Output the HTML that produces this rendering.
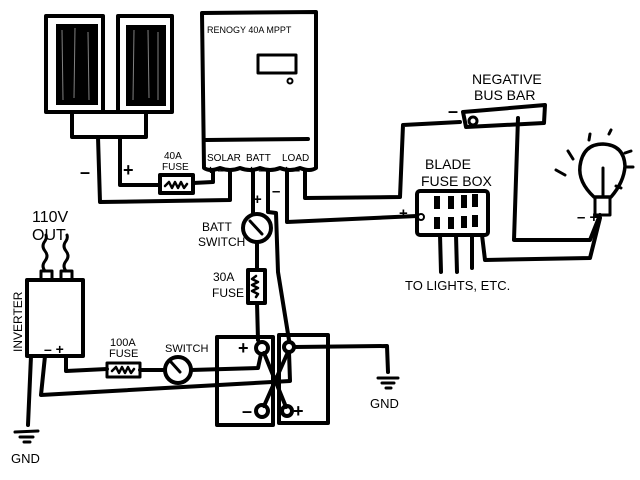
<!DOCTYPE html>
<html><head><style>body{margin:0;background:#fff}svg{display:block}text{font-family:"Liberation Sans",sans-serif;fill:#000}</style></head>
<body>
<svg width="640" height="480" viewBox="0 0 640 480" xmlns="http://www.w3.org/2000/svg">
<g fill="none" stroke="#000" stroke-width="4" stroke-linejoin="round" stroke-linecap="round">
<rect x="46" y="16" width="57" height="96"/>
<rect x="118" y="16" width="54" height="96"/>
<rect x="72" y="112" width="74" height="25"/>
<polyline points="98,137 100,202 230,200 230,170"/>
<polyline points="120,137 120,185 160,185"/>
<rect x="160" y="175" width="33" height="18"/>
<polyline points="193,183 213,182 213,170"/>
<path d="M202,13 L316,12 L316,168 Q310,172 300,168 Q290,172 280,168 Q270,172 260,168 Q250,172 240,168 Q230,172 220,168 Q210,172 204,168 Z"/>
<rect x="258" y="55" width="38" height="18" stroke-width="3"/>
<circle cx="290" cy="81" r="2.5" stroke-width="2"/>
<line x1="206" y1="140" x2="308" y2="139"/>
<polyline points="253,170 253,214"/>
<circle cx="257" cy="228" r="14"/>
<line x1="250" y1="221" x2="262" y2="234" stroke-width="3"/>
<polyline points="257,242 257,270"/>
<rect x="248" y="270" width="17" height="33"/>
<polyline points="257,303 258,340"/>
<polyline points="268,170 268,212 276,213 278,272 289,340"/>
<polyline points="287,170 287,222 417,216"/>
<polyline points="305,170 305,198 400,197 403,125 460,122"/>
<path d="M463,112 L545,105 L544,123 L466,127 Z"/>
<circle cx="473" cy="121" r="4" stroke-width="3"/>
<polyline points="518,118 514,240 590,240 600,215"/>
<rect x="417" y="191" width="71" height="44" rx="3"/>
<circle cx="421" cy="217" r="3" stroke-width="2"/>
<polyline points="440,235 441,272"/><polyline points="456,235 457,272"/><polyline points="472,235 472,268"/>
<polyline points="482,235 485,260 590,258 600,218"/>
<path d="M594,197 Q578,182 580,166 Q583,144 603,144 Q624,145 625,166 Q624,182 611,197 Z" stroke-width="3.5"/>
<rect x="595" y="197" width="15" height="18" stroke-width="3"/>
<line x1="603" y1="168" x2="603" y2="197" stroke-width="3"/>
<g stroke-width="3"><line x1="589" y1="140" x2="590" y2="134"/><line x1="609" y1="134" x2="611" y2="130"/><line x1="625" y1="153" x2="631" y2="151"/><line x1="627" y1="167" x2="633" y2="167"/><line x1="616" y1="186" x2="621" y2="188"/><line x1="568" y1="151" x2="573" y2="159"/><line x1="556" y1="170" x2="565" y2="175"/></g>
<rect x="217" y="337" width="56" height="88"/>
<rect x="279" y="335" width="49" height="88"/>
<circle cx="262" cy="348" r="6"/><circle cx="289" cy="347" r="5"/>
<circle cx="262" cy="411" r="6"/><circle cx="287" cy="411" r="5"/>
<line x1="264" y1="353" x2="286" y2="407"/>
<line x1="288" y1="352" x2="264" y2="406"/>
<polyline points="294,347 387,346 388,372"/>
<g stroke-width="3"><line x1="378" y1="378" x2="398" y2="378"/><line x1="382" y1="383" x2="394" y2="383"/><line x1="386" y1="388" x2="391" y2="388"/></g>
<rect x="27" y="280" width="56" height="76"/>
<rect x="41" y="271" width="11" height="9" stroke-width="3"/><rect x="61" y="271" width="11" height="9" stroke-width="3"/>
<path d="M45,271 q-4,-5 0,-10 q4,-5 0,-10 q-4,-5 0,-10 q2,-3 1,-6" stroke-width="3"/>
<path d="M66,271 q-4,-5 0,-10 q4,-5 0,-10 q-4,-5 0,-10 q2,-3 1,-6" stroke-width="3"/>
<polyline points="66,356 66,371 107,369"/>
<rect x="107" y="363" width="33" height="14" stroke-width="3"/>
<polyline points="140,370 165,370"/>
<circle cx="178" cy="370" r="13"/>
<line x1="171" y1="362" x2="180" y2="372" stroke-width="3"/>
<polyline points="191,370 258,368 261,354"/>
<polyline points="45,356 41,395 290,381 289,352"/>
<polyline points="31,356 28,425"/>
<g stroke-width="3"><line x1="15" y1="432" x2="38" y2="431"/><line x1="20" y1="437" x2="33" y2="437"/><line x1="24" y1="442" x2="30" y2="442"/></g>
<path d="M165,186 l4,-4 l3,6 l3,-6 l3,6 l3,-6 l3,6 l3,-4" stroke-width="2.5"/>
<path d="M112,371 l4,-4 l3,6 l3,-6 l3,6 l3,-6 l3,6 l3,-4" stroke-width="2.5"/>
<path d="M256,276 l-4,3 l6,3 l-6,3 l6,3 l-6,3 l6,3 l-2,3" stroke-width="2.5"/>
</g>
<rect x="56" y="24" width="42" height="81" fill="#000"/>
<rect x="126" y="25" width="40" height="81" fill="#000"/>
<g stroke="#fff" stroke-width="1" opacity="0.5"><line x1="62" y1="30" x2="63" y2="100"/><line x1="75" y1="28" x2="74" y2="98"/><line x1="88" y1="32" x2="89" y2="100"/><line x1="134" y1="30" x2="133" y2="100"/><line x1="148" y1="30" x2="149" y2="98"/><line x1="158" y1="32" x2="158" y2="100"/></g>
<g fill="#000"><rect x="434" y="196" width="6" height="13"/><rect x="448" y="196" width="6" height="13"/><rect x="461" y="195" width="6" height="13"/><rect x="472" y="194" width="6" height="13"/>
<rect x="434" y="217" width="6" height="12"/><rect x="448" y="217" width="6" height="12"/><rect x="461" y="216" width="6" height="12"/><rect x="472" y="215" width="6" height="12"/></g>
<g font-size="10">
<text x="207" y="33" font-size="9">RENOGY 40A MPPT</text>
<text x="207" y="161">SOLAR</text><text x="246" y="161">BATT</text><text x="282" y="161">LOAD</text>
<text x="164" y="159">40A</text><text x="162" y="170">FUSE</text>
<text x="202" y="231" font-size="12">BATT</text><text x="198" y="246" font-size="12">SWITCH</text>
<text x="213" y="281" font-size="12">30A</text><text x="212" y="297" font-size="12">FUSE</text>
<text x="110" y="346" font-size="11">100A</text><text x="109" y="357" font-size="11">FUSE</text>
<text x="165" y="352" font-size="11">SWITCH</text>
<text x="472" y="84" font-size="14">NEGATIVE</text><text x="474" y="100" font-size="14">BUS BAR</text>
<text x="425" y="169" font-size="14">BLADE</text><text x="421" y="186" font-size="14">FUSE BOX</text>
<text x="405" y="290" font-size="13">TO LIGHTS, ETC.</text>
<text x="32" y="222" font-size="16">110V</text><text x="32" y="240" font-size="16">OUT</text>
<text x="370" y="408" font-size="13">GND</text><text x="11" y="463" font-size="13">GND</text>
<text transform="translate(22,352) rotate(-90)" font-size="12">INVERTER</text>
</g>
<g font-size="18" font-weight="bold">
<text x="80" y="178">–</text><text x="123" y="176">+</text>
<text x="207" y="174" font-size="12">+ –</text><text x="248" y="174" font-size="12">+ –</text><text x="283" y="174" font-size="12">+ –</text>
<text x="253" y="204" font-size="15">+</text><text x="272" y="196" font-size="15">–</text>
<text x="44" y="354" font-size="14">– +</text>
<text x="238" y="354">+</text><text x="296" y="352">–</text>
<text x="242" y="417">–</text><text x="293" y="417">+</text>
<text x="448" y="117">–</text><text x="399" y="218" font-size="15">+</text>
<text x="577" y="222" font-size="15">– +</text>
</g>
</svg>
</body></html>
